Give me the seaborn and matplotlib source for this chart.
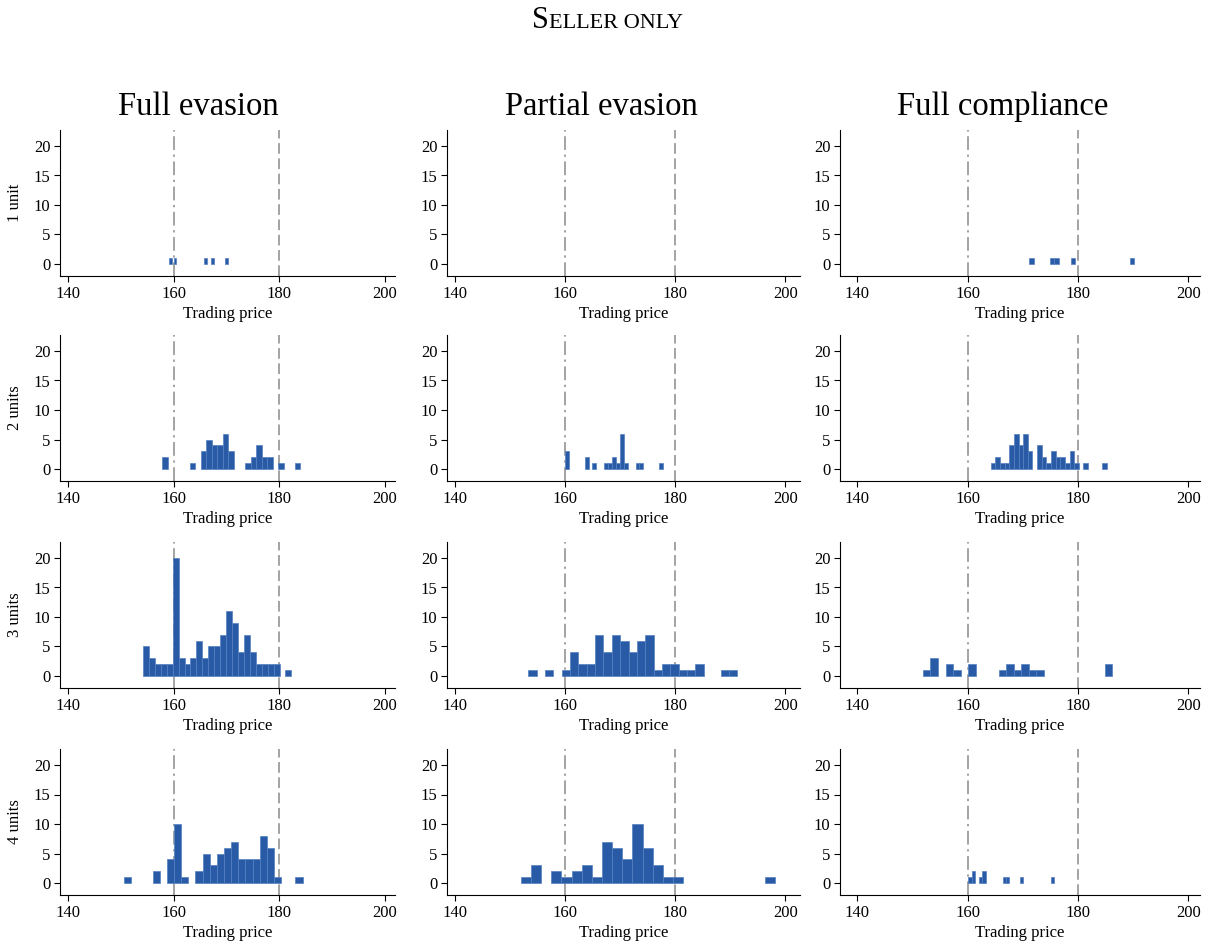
import matplotlib
matplotlib.use('Agg')
import matplotlib.pyplot as plt
import numpy as np
import seaborn as sns

# each panel: (min price, max price) of the histogram and the counts in its 25 bins
fe_1_range = (159.2, 170.2)
fe_1_counts = [1, 0, 1, 0, 0, 0, 0, 0, 0, 0, 0, 0, 0, 0, 0, 1, 0, 0, 1, 0, 0, 0, 0, 0, 1]
fe_2_range = (157.8, 184.0)
fe_2_counts = [2, 0, 0, 0, 0, 1, 0, 3, 5, 4, 4, 6, 3, 0, 0, 1, 2, 4, 2, 2, 0, 1, 0, 0, 1]
fe_3_range = (154.2, 182.3)
fe_3_counts = [5, 3, 2, 2, 2, 20, 3, 2, 3, 6, 3, 5, 5, 7, 11, 9, 4, 7, 4, 2, 2, 2, 2, 0, 1]
fe_4_range = (150.6, 184.4)
fe_4_counts = [1, 0, 0, 0, 2, 0, 4, 10, 1, 0, 2, 5, 3, 5, 6, 7, 4, 4, 4, 8, 6, 1, 0, 0, 1]

pe_1_range = None
pe_1_counts = []
pe_2_range = (160.0, 177.8)
pe_2_counts = [3, 0, 0, 0, 0, 2, 0, 1, 0, 0, 1, 1, 2, 1, 6, 1, 0, 0, 1, 1, 0, 0, 0, 0, 1]
pe_3_range = (153.3, 191.3)
pe_3_counts = [1, 0, 1, 0, 1, 4, 2, 2, 7, 4, 7, 6, 4, 6, 7, 1, 2, 2, 1, 1, 2, 0, 0, 1, 1]
pe_4_range = (151.95, 198.1)
pe_4_counts = [1, 3, 0, 2, 1, 2, 3, 1, 7, 6, 4, 10, 6, 3, 1, 1, 0, 0, 0, 0, 0, 0, 0, 0, 1]

fc_1_range = (171.2, 190.1)
fc_1_counts = [1, 0, 0, 0, 0, 1, 1, 0, 0, 0, 1, 0, 0, 0, 0, 0, 0, 0, 0, 0, 0, 0, 0, 0, 1]
fc_2_range = (164.2, 185.2)
fc_2_counts = [1, 2, 1, 1, 4, 6, 4, 6, 3, 0, 4, 2, 1, 3, 2, 2, 1, 3, 1, 0, 1, 0, 0, 0, 1]
fc_3_range = (151.9, 186.2)
fc_3_counts = [1, 3, 0, 2, 1, 0, 2, 0, 0, 0, 1, 2, 1, 2, 1, 1, 0, 0, 0, 0, 0, 0, 0, 0, 2]
fc_4_range = (160.15, 175.66)
fc_4_counts = [1, 2, 0, 1, 2, 0, 0, 0, 0, 0, 1, 1, 0, 0, 0, 1, 0, 0, 0, 0, 0, 0, 0, 0, 1]

columns = ['Full evasion', 'Partial evasion', 'Full compliance']
rows = ['1 unit', '2 units', '3 units', '4 units']
x_ticks = [140, 160, 180, 200]
y_ticks = [0, 5, 10, 15, 20]

ranges = [[fe_1_range, pe_1_range, fc_1_range],
          [fe_2_range, pe_2_range, fc_2_range],
          [fe_3_range, pe_3_range, fc_3_range],
          [fe_4_range, pe_4_range, fc_4_range]]
counts = [[fe_1_counts, pe_1_counts, fc_1_counts],
          [fe_2_counts, pe_2_counts, fc_2_counts],
          [fe_3_counts, pe_3_counts, fc_3_counts],
          [fe_4_counts, pe_4_counts, fc_4_counts]]

BAR = '#285aa6'
EDGE = '#5580c2'
GREY = '#8a8a8a'
SERIF = ['Liberation Serif', 'DejaVu Serif']

sns.set_style('white')
plt.rcParams['font.family'] = SERIF
plt.rcParams['text.color'] = 'black'
plt.rcParams['axes.labelcolor'] = 'black'

W, H = 1214, 947
fig = plt.figure(figsize=(W / 100, H / 100), dpi=100)

# layout in pixels: (left, right) per column, zero line per row
col_px = [(60, 395), (447, 800), (840, 1200)]
col_xlim = [(138.5, 201.9), (138.55, 202.7), (136.9, 202.1)]
zero_px = [264, 469, 676, 883]
px_per_unit = 5.9
ylim = (-2.0, 22.7)
title_x = [198, 601, 1003]


def draw_hist(ax, rng, cnt):
    if rng is None:
        return
    lo, hi = rng
    step = (hi - lo) / len(cnt)
    mids = [lo + step * (i + 0.5) for i in range(len(cnt))]
    sns.histplot(x=mids, weights=cnt, bins=len(cnt), binrange=(lo, hi),
                 color=BAR, edgecolor=EDGE, linewidth=0.5, alpha=1, ax=ax)
    for p in list(ax.patches):
        if p.get_height() == 0:
            p.remove()


for r in range(4):
    top = zero_px[r] - ylim[1] * px_per_unit
    bottom = zero_px[r] - ylim[0] * px_per_unit
    for c in range(3):
        left, right = col_px[c]
        ax = fig.add_axes([left / W, 1 - bottom / H, (right - left) / W, (bottom - top) / H])
        draw_hist(ax, ranges[r][c], counts[r][c])
        ax.axvline(160, color=GREY, lw=1.1, ls=(0, (9, 3, 1.5, 3)), zorder=0)
        ax.axvline(180, color=GREY, lw=1.1, ls=(0, (7, 3)), zorder=0)
        ax.set_xlim(col_xlim[c])
        ax.set_ylim(ylim)
        ax.set_xticks(x_ticks)
        ax.set_yticks(y_ticks)
        ax.tick_params(axis='both', direction='out', length=4, width=0.8,
                       labelsize=12, pad=3, colors='black', bottom=True, left=True)
        sns.despine(ax=ax)
        for s in ('left', 'bottom'):
            ax.spines[s].set_linewidth(0.8)
            ax.spines[s].set_color('black')
        ax.set_xlabel('Trading price', fontsize=12, labelpad=3)
        ax.set_ylabel('')
        if c == 0:
            fig.text(15 / W, 1 - (top + bottom) / 2 / H, rows[r], rotation=90,
                     ha='center', va='center', fontsize=12)
        if r == 0:
            fig.text(title_x[c] / W, 1 - 115 / H, columns[c], ha='center',
                     va='baseline', fontsize=23.5)

# small-caps title
renderer = fig.canvas.get_renderer()
t_big = fig.text(0, 1 - 28 / H, 'S', fontsize=22, va='baseline')
t_small = fig.text(0, 1 - 28 / H, 'ELLER ONLY', fontsize=16, va='baseline')
w_big = t_big.get_window_extent(renderer).width
w_small = t_small.get_window_extent(renderer).width
x0 = W / 2 - (w_big + w_small) / 2
t_big.set_x(x0 / W)
t_small.set_x((x0 + w_big + 1) / W)

fig.savefig('out.png', dpi=100)
